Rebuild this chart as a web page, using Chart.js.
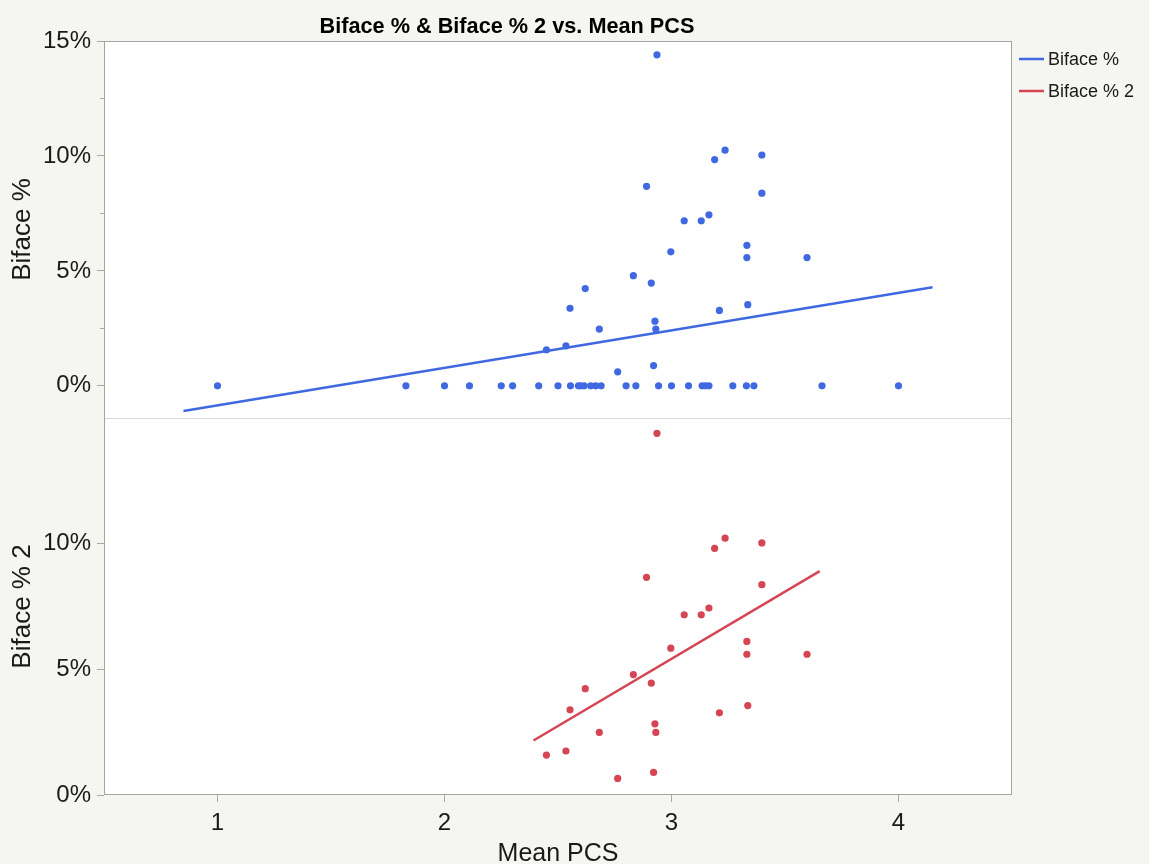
<!DOCTYPE html>
<html>
<head>
<meta charset="utf-8">
<script src="https://cdn.jsdelivr.net/npm/chart.js@4/dist/chart.umd.min.js"></script>
<style>
  html, body { margin: 0; padding: 0; background: #f5f5f1; }
  #wrap { width: 1149px; height: 864px; position: relative; }
</style>
</head>
<body>
<div id="wrap"><canvas id="c" width="1149" height="864"></canvas></div>
<script>
// ---------- data ----------
const chartTitle = 'Biface % & Biface % 2 vs. Mean PCS';
const xTitle = 'Mean PCS';
const seriesNames = ['Biface %', 'Biface % 2'];

// Biface % : rows with 0 %
const bifaceZeroX = [1.0, 1.83, 2.0, 2.11, 2.25, 2.30, 2.415, 2.50, 2.555, 2.59, 2.60, 2.615,
  2.644, 2.666, 2.69, 2.80, 2.843, 2.943, 3.0, 3.075, 3.135, 3.15, 3.165, 3.27, 3.33, 3.363, 3.663, 4.0];
// Biface % : rows with non-zero values
const bifaceX = [2.449, 2.535, 2.553, 2.62, 2.682, 2.763, 2.832, 2.89, 2.911, 2.921, 2.927, 2.931, 2.936,
  2.997, 3.056, 3.131, 3.165, 3.19, 3.211, 3.236, 3.332, 3.332, 3.336, 3.398, 3.398, 3.597];
const bifaceY = [1.57, 1.74, 3.37, 4.23, 2.47, 0.61, 4.79, 8.68, 4.47, 0.88, 2.81, 2.47, 14.40,
  5.83, 7.18, 7.18, 7.44, 9.84, 3.28, 10.25, 6.11, 5.58, 3.53, 10.04, 8.38, 5.58];

// Biface % 2
const biface2X = [2.449, 2.535, 2.553, 2.62, 2.682, 2.763, 2.832, 2.89, 2.911, 2.921, 2.927, 2.931, 2.936,
  2.997, 3.056, 3.131, 3.165, 3.19, 3.211, 3.236, 3.332, 3.332, 3.336, 3.398, 3.398, 3.597];
const biface2Y = [1.59, 1.75, 3.39, 4.23, 2.49, 0.66, 4.79, 8.66, 4.45, 0.90, 2.83, 2.49, 14.39,
  5.84, 7.17, 7.17, 7.44, 9.81, 3.27, 10.22, 6.11, 5.60, 3.56, 10.03, 8.37, 5.60];

// fitted lines (end points)
const fit1X = [0.85, 4.15];
const fit1Y = [-1.10, 4.29];
const fit2X = [2.392, 3.653];
const fit2Y = [2.17, 8.91];

// axes
const xRange = [0.5, 4.5];
const xTicks = [1, 2, 3, 4];
const topRange = [-1.4, 15];
const topTicks = [0, 5, 10, 15];
const topMinorTicks = [2.5, 7.5, 12.5];
const bottomRange = [0, 15];
const bottomTicks = [0, 5, 10];

// ---------- styling ----------
const BLUE = 'rgb(64,105,225)';
const RED = 'rgb(212,70,84)';
const FRAME = '#a4a4a4';
const TICKC = '#a8a8a8';
const TXT = '#1a1a1a';
const FONT = "'Liberation Sans', Arial, Helvetica, sans-serif";

const zip = (xs, ys) => xs.map((x, i) => ({x: x, y: ys[i]}));
const bifaceData = bifaceZeroX.map(x => ({x: x, y: 0})).concat(zip(bifaceX, bifaceY));

const framePlugin = {
  id: 'frame',
  beforeDraw(chart) {
    const {ctx, chartArea: a} = chart;
    ctx.save();
    ctx.fillStyle = '#ffffff';
    ctx.fillRect(a.left, a.top, a.right - a.left, a.bottom - a.top);
    ctx.restore();
  },
  beforeDatasetsDraw(chart) {
    const {ctx, chartArea: a} = chart;
    const yT = chart.scales.yT;
    ctx.save();
    // separator between panels
    ctx.strokeStyle = '#d6d6d6';
    ctx.lineWidth = 1;
    ctx.beginPath();
    ctx.moveTo(a.left, Math.round(yT.bottom) + 0.5);
    ctx.lineTo(a.right, Math.round(yT.bottom) + 0.5);
    ctx.stroke();
    // frame
    ctx.strokeStyle = FRAME;
    ctx.strokeRect(Math.round(a.left) + 0.5, Math.round(a.top) + 0.5,
      Math.round(a.right - a.left) - 1, Math.round(a.bottom - a.top) - 1);
    // minor ticks on top panel
    ctx.strokeStyle = TICKC;
    ctx.beginPath();
    topMinorTicks.forEach(v => {
      const py = Math.round(yT.getPixelForValue(v)) + 0.5;
      ctx.moveTo(a.left - 4, py);
      ctx.lineTo(a.left, py);
    });
    ctx.stroke();
    ctx.restore();
  },
  afterDraw(chart) {
    const {ctx, chartArea: a} = chart;
    ctx.save();
    // title
    ctx.fillStyle = '#000';
    ctx.font = 'bold 21.7px ' + FONT;
    ctx.textAlign = 'center';
    ctx.textBaseline = 'middle';
    ctx.fillText(chartTitle, a.right / 2 + 1, 27.5);
    // legend
    const cols = [BLUE, RED];
    ctx.font = '18px ' + FONT;
    ctx.textAlign = 'left';
    seriesNames.forEach((name, i) => {
      const y = 59 + i * 32;
      ctx.strokeStyle = cols[i];
      ctx.lineWidth = 2.5;
      ctx.beginPath();
      ctx.moveTo(a.right + 7, y);
      ctx.lineTo(a.right + 32, y);
      ctx.stroke();
      ctx.fillStyle = TXT;
      ctx.fillText(name, a.right + 36, y + 1);
    });
    ctx.restore();
  }
};

const pctTick = v => v + '%';

new Chart(document.getElementById('c'), {
  type: 'scatter',
  data: {
    datasets: [
      { label: seriesNames[0], data: bifaceData, yAxisID: 'yT',
        backgroundColor: BLUE, borderWidth: 0, pointRadius: 3.6, pointHoverRadius: 3.6 },
      { label: seriesNames[0] + ' fit', data: zip(fit1X, fit1Y), yAxisID: 'yT', showLine: true,
        borderColor: BLUE, borderWidth: 2.5, pointRadius: 0, fill: false },
      { label: seriesNames[1], data: zip(biface2X, biface2Y), yAxisID: 'yB',
        backgroundColor: RED, borderWidth: 0, pointRadius: 3.6, pointHoverRadius: 3.6 },
      { label: seriesNames[1] + ' fit', data: zip(fit2X, fit2Y), yAxisID: 'yB', showLine: true,
        borderColor: RED, borderWidth: 2.5, pointRadius: 0, fill: false }
    ]
  },
  options: {
    responsive: false,
    animation: false,
    devicePixelRatio: 1,
    layout: { padding: { left: 0, right: 137, top: 41, bottom: 0 } },
    plugins: { legend: { display: false }, title: { display: false }, tooltip: { enabled: false } },
    scales: {
      x: {
        type: 'linear', position: 'bottom', min: xRange[0], max: xRange[1],
        afterBuildTicks: s => { s.ticks = xTicks.map(v => ({value: v})); },
        afterFit: s => { s.height = 69; },
        grid: { drawOnChartArea: false, drawTicks: true, tickLength: 7, color: TICKC },
        border: { display: false },
        ticks: { font: { family: FONT, size: 24 }, color: TXT, padding: 7, maxRotation: 0 },
        title: { display: true, text: xTitle, color: TXT, font: { family: FONT, size: 25, lineHeight: 0.8 },
          padding: { top: 0, bottom: 0 } }
      },
      yB: {
        type: 'linear', position: 'left', stack: 'panels', stackWeight: 1, weight: 0,
        min: bottomRange[0], max: bottomRange[1],
        afterBuildTicks: s => { s.ticks = bottomTicks.map(v => ({value: v})); },
        afterFit: s => { s.width = 104; },
        grid: { drawOnChartArea: false, drawTicks: true, tickLength: 7, color: TICKC },
        border: { display: false },
        ticks: { font: { family: FONT, size: 24 }, color: TXT, padding: 6, callback: pctTick },
        title: { display: true, text: seriesNames[1], color: TXT, font: { family: FONT, size: 26 },
          padding: { top: 7, bottom: 0 } }
      },
      yT: {
        type: 'linear', position: 'left', stack: 'panels', stackWeight: 1, weight: 1,
        min: topRange[0], max: topRange[1],
        afterBuildTicks: s => { s.ticks = topTicks.map(v => ({value: v})); },
        afterFit: s => { s.width = 104; },
        grid: { drawOnChartArea: false, drawTicks: true, tickLength: 7, color: TICKC },
        border: { display: false },
        ticks: { font: { family: FONT, size: 24 }, color: TXT, padding: 6, callback: pctTick },
        title: { display: true, text: seriesNames[0], color: TXT, font: { family: FONT, size: 26 },
          padding: { top: 7, bottom: 0 } }
      }
    }
  },
  plugins: [framePlugin]
});
</script>
</body>
</html>
